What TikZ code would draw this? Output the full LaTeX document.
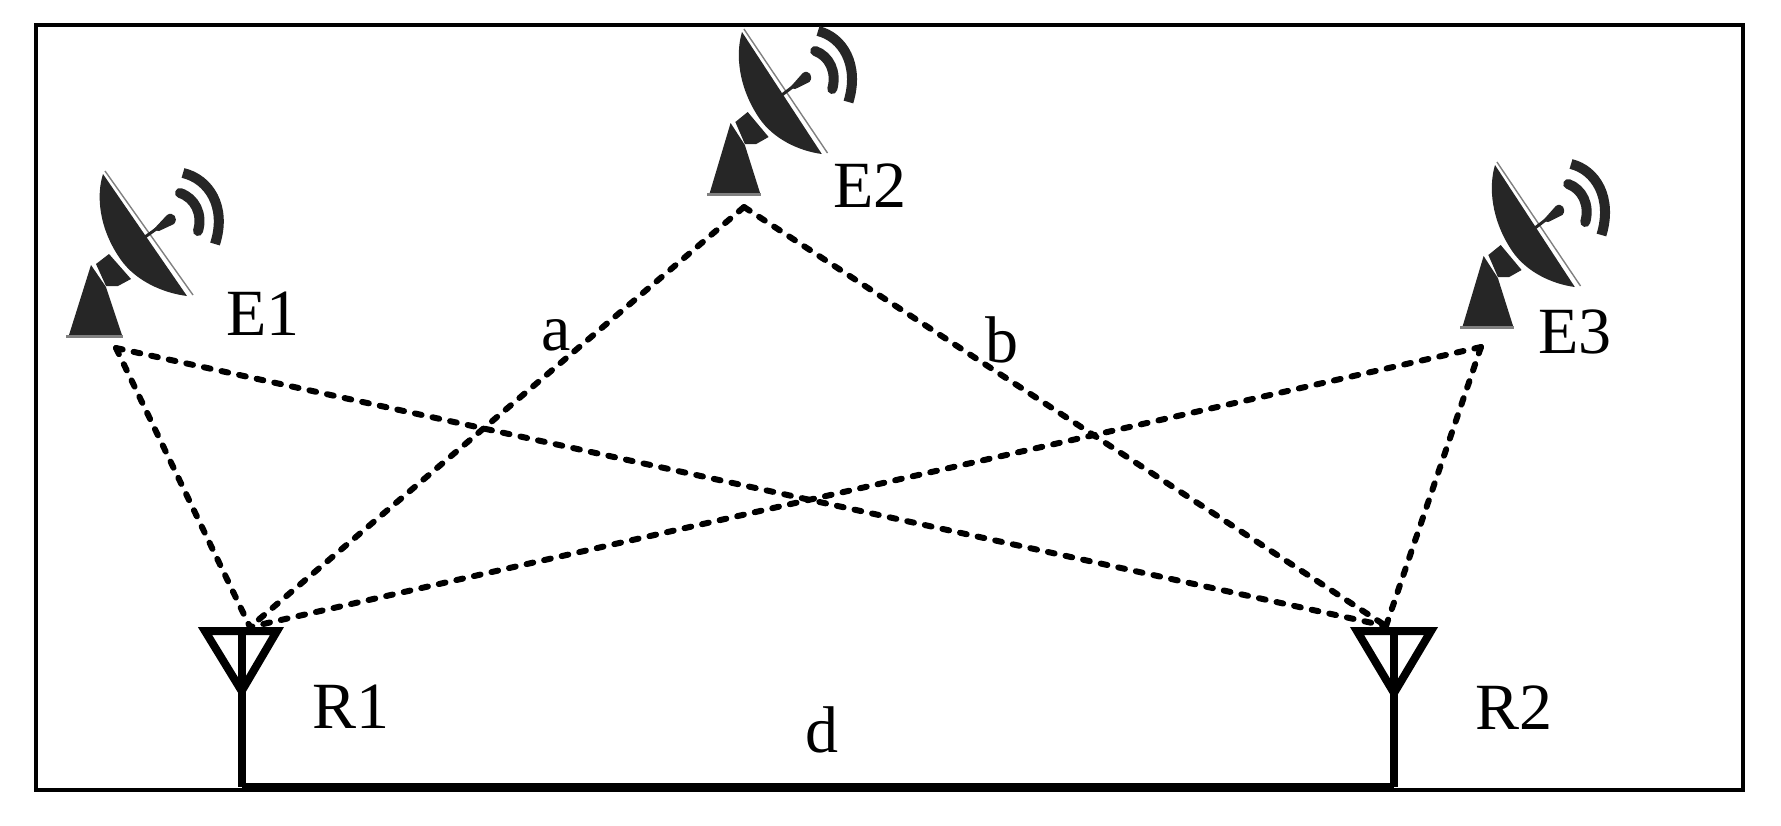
\documentclass[tikz,border=0pt]{standalone}
\usepackage{fontspec}
\setmainfont{Liberation Serif}
\definecolor{dishgray}{HTML}{262626}
\tikzset{
  frameline/.style={draw=black, line width=2pt},
  linkline/.style={line width=3pt, line cap=round, dash pattern=on 3.4pt off 5.6pt},
  antline/.style={draw=black, line width=4pt, miter limit=10},
  basedline/.style={draw=black, line width=4.5pt},
  labeltext/.style={font=\fontsize{33}{33}\selectfont, inner sep=0pt, anchor=base},
  pics/dish/.style={code={
    % tower and mount
    \fill[dishgray] (-12,94) -- (-34,164) -- (19,164) -- (3,116) -- cycle;
    \fill[gray] (-37,164) rectangle (20,167);
    \fill[dishgray] (-7,93) -- (6,83) -- (28,108) -- (15,115) -- (3,115) -- cycle;
    % dish
    \fill[dishgray] (0,3) .. controls (-7,25) and (-4,58) .. (18,89)
      .. controls (33,110) and (60,122) .. (84,125) -- cycle;
    \draw[gray, line width=.7pt] (2,0) -- (90,124);
    % feed
    \draw[dishgray, line width=1.5pt] (42,66) -- (56,56);
    \fill[dishgray] (50,59) -- (64,44) .. controls (70,40) and (76,47) .. (71,53) -- (56,60) -- cycle;
    % waves
    \draw[dishgray, line width=5pt, line cap=round] (77,22) .. controls (92,27) and (100,43) .. (95,60);
    \draw[dishgray, line width=5pt] (80,2) .. controls (106,8) and (124,36) .. (112,73);
  }}
}

\begin{document}
\begin{tikzpicture}[x=0.5pt, y=-0.5pt]
  \useasboundingbox (0,0) rectangle (1781,825);

  % Frame
  \draw[frameline] (35.5,24.5) rectangle (1743,790);

  % Emitters
  \pic at (103,171) {dish};
  \pic[xscale=.95] at (742,29) {dish};
  \pic[xscale=.95] at (1495,162) {dish};

  % Connection points
  \coordinate (e1) at (116,348);
  \coordinate (e2) at (744,207);
  \coordinate (e3) at (1481,347);
  \coordinate (r1) at (250,627);
  \coordinate (r2) at (1386,626);

  % Receivers
  \coordinate (r1l) at (205,631);
  \coordinate (r1r) at (277,631);
  \coordinate (r1a) at (241.7,691);
  \coordinate (r1b) at (241.7,787);
  \coordinate (r2l) at (1357,631);
  \coordinate (r2r) at (1431,631);
  \coordinate (r2a) at (1394,693);
  \coordinate (r2b) at (1394,787);
  \draw[antline] (r1l) -- (r1r) -- (r1a) -- cycle;
  \draw[antline] (r2l) -- (r2r) -- (r2a) -- cycle;
  \draw[antline] (241.7,631) -- (r1b);
  \draw[antline] (1394,631) -- (r2b);
  \draw[basedline] (r1b) -- (r2b);

  % Links
  \draw[linkline] (e1) -- (r1);
  \draw[linkline] (e1) -- (r2);
  \draw[linkline] (e2) -- (r1);
  \draw[linkline] (e2) -- (r2);
  \draw[linkline] (e3) -- (r1);
  \draw[linkline] (e3) -- (r2);

  % Labels
  \node[labeltext] (E1) at (263,335) {E1};
  \node[labeltext] (E2) at (870,207) {E2};
  \node[labeltext] (E3) at (1575,353) {E3};
  \node[labeltext] (R1) at (351,728) {R1};
  \node[labeltext] (R2) at (1514,729) {R2};
  \node[labeltext] (a) at (556,350) {a};
  \node[labeltext] (b) at (1002,362) {b};
  \node[labeltext] (d) at (822,752) {d};
\end{tikzpicture}
\end{document}
